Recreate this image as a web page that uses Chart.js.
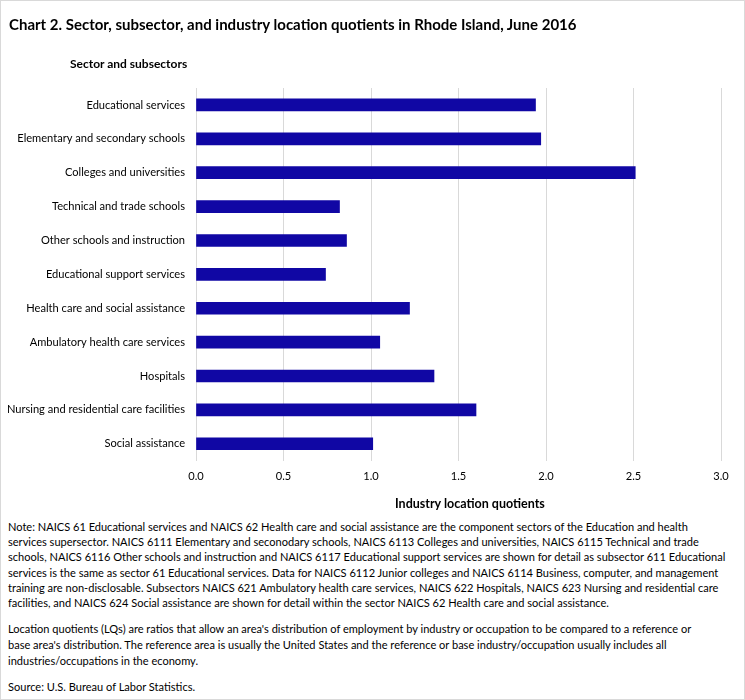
<!DOCTYPE html>
<html>
<head>
<meta charset="utf-8">
<script src="https://cdn.jsdelivr.net/npm/chart.js@4.4.1/dist/chart.umd.min.js"></script>
<style>
  html, body { margin: 0; padding: 0; background: #fff; }
  #page {
    position: relative; width: 743px; height: 698px;
    border: 1px solid #d9d9d9; overflow: hidden;
    font-family: Lato, sans-serif; color: #000;
  }
  #title { position: absolute; left: 8px; top: 14px; font-weight: bold; font-size: 15px; white-space: nowrap; }
  #ytitle { position: absolute; left: 69px; top: 55px; font-weight: bold; font-size: 12px; white-space: nowrap; }
  #xtitle { position: absolute; left: 394px; top: 495px; font-weight: bold; font-size: 12.5px; white-space: nowrap; }
  #chartBox { position: absolute; left: -1px; top: -1px; width: 745px; height: 516px; }
  #notes { position: absolute; left: 7px; top: 518px; font-size: 11.05px; line-height: 15.2px; white-space: nowrap; }
  #notes p { margin: 0; }
</style>
</head>
<body>
<div id="page">
  <div id="chartBox"><canvas id="lqChart"></canvas></div>
  <div id="title">Chart 2. Sector, subsector, and industry location quotients in Rhode Island, June 2016</div>
  <div id="ytitle">Sector and subsectors</div>
  <div id="xtitle">Industry location quotients</div>
  <div id="notes">
    <p>Note: NAICS 61 Educational services and NAICS 62 Health care and social assistance are the component sectors of the Education and health<br>
    services supersector. NAICS 6111 Elementary and seconodary schools, NAICS 6113 Colleges and universities, NAICS 6115 Technical and trade<br>
    schools, NAICS 6116 Other schools and instruction and NAICS 6117 Educational support services are shown for detail as subsector 611 Educational<br>
    services is the same as sector 61 Educational services. Data for NAICS 6112 Junior colleges and NAICS 6114 Business, computer, and management<br>
    training are non-disclosable. Subsectors NAICS 621 Ambulatory health care services, NAICS 622 Hospitals, NAICS 623 Nursing and residential care<br>
    facilities, and NAICS 624 Social assistance are shown for detail within the sector NAICS 62 Health care and social assistance.</p>
    <p style="margin-top:11px; line-height:15.8px;">Location quotients (LQs) are ratios that allow an area's distribution of employment by industry or occupation to be compared to a reference or<br>
    base area's distribution. The reference area is usually the United States and the reference or base industry/occupation usually includes all<br>
    industries/occupations in the economy.</p>
    <p style="margin-top:10px;">Source: U.S. Bureau of Labor Statistics.</p>
  </div>
</div>

<script>
// categories, top to bottom
var sectors = ['Educational services', 'Elementary and secondary schools', 'Colleges and universities',
  'Technical and trade schools', 'Other schools and instruction', 'Educational support services',
  'Health care and social assistance', 'Ambulatory health care services', 'Hospitals',
  'Nursing and residential care facilities', 'Social assistance'];

// location quotients
var quotients = [1.94, 1.97, 2.51, 0.82, 0.86, 0.74, 1.22, 1.05, 1.36, 1.60, 1.01];

var xTicks = [0, 0.5, 1.0, 1.5, 2.0, 2.5, 3.0];

var barColor = '#1007a4';
var labelFont = { family: 'Lato, sans-serif', size: 11.1 };

new Chart(document.getElementById('lqChart'), {
  type: 'bar',
  data: {
    labels: sectors,
    datasets: [{
      label: 'Location quotient',
      data: quotients,
      backgroundColor: barColor,
      barThickness: 12
    }]
  },
  options: {
    indexAxis: 'y',
    responsive: true,
    maintainAspectRatio: false,
    animation: false,
    layout: { padding: { top: 88, right: 24, left: 0, bottom: 24 } },
    plugins: {
      legend: { display: false },
      tooltip: { enabled: false }
    },
    scales: {
      x: {
        min: 0,
        max: 3,
        afterBuildTicks: function(axis) {
          axis.ticks = xTicks.map(function(v) { return { value: v }; });
        },
        ticks: {
          color: '#000',
          font: labelFont,
          padding: 9,
          callback: function(v) { return Number(v).toFixed(1); }
        },
        grid: { color: '#d9d9d9', drawTicks: false },
        border: { display: false }
      },
      y: {
        afterFit: function(axis) { axis.width = 196; },
        ticks: { color: '#000', font: labelFont, padding: 3 },
        grid: { display: false },
        border: { display: false }
      }
    }
  }
});
</script>
</body>
</html>
